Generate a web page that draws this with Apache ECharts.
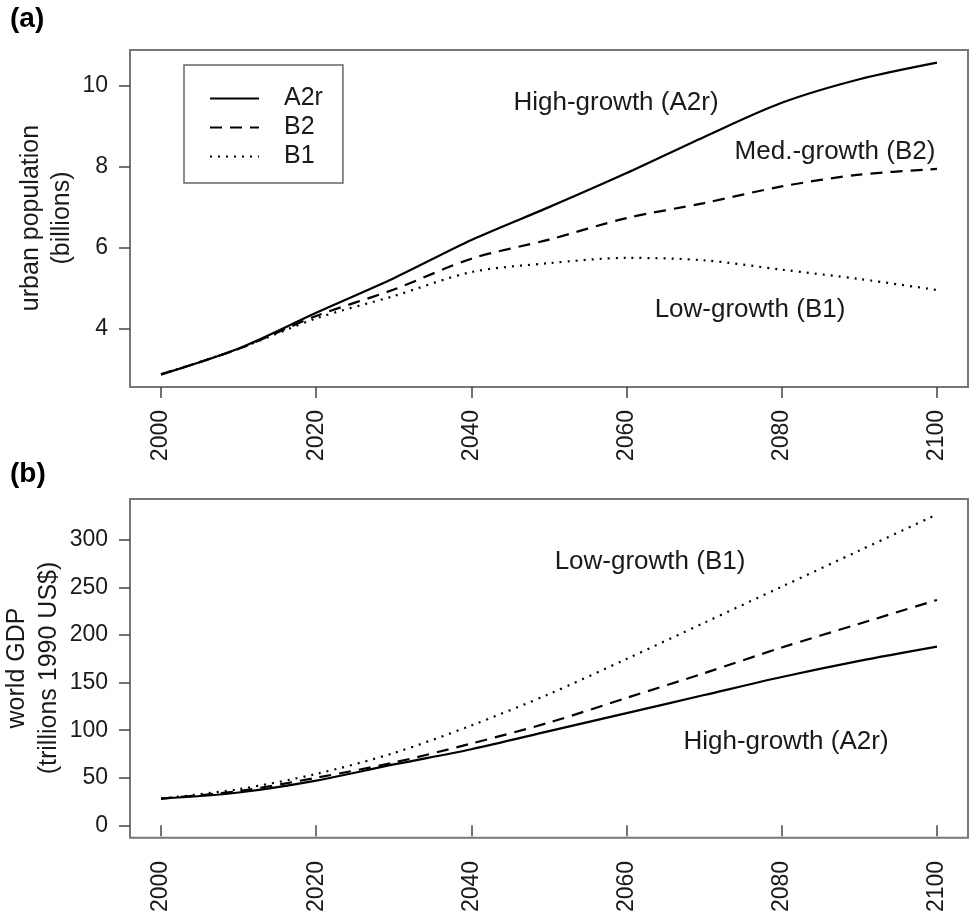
<!DOCTYPE html>
<html>
<head>
<meta charset="utf-8">
<script src="https://cdn.jsdelivr.net/npm/echarts@6/dist/echarts.min.js"></script>
<style>
  html, body { margin: 0; padding: 0; background: #fff; }
  #chart { width: 976px; height: 915px; }
</style>
</head>
<body>
<div id="chart"></div>
<script>
// Projection years and scenario series
const years = [2000, 2010, 2020, 2030, 2040, 2050, 2060, 2070, 2080, 2090, 2100];

// (a) urban population, billions
const popA2r = [2.88, 3.52, 4.40, 5.25, 6.19, 7.00, 7.84, 8.73, 9.57, 10.15, 10.56];
const popB2  = [2.88, 3.51, 4.32, 4.97, 5.73, 6.20, 6.73, 7.10, 7.51, 7.80, 7.94];
const popB1  = [2.88, 3.51, 4.26, 4.81, 5.40, 5.62, 5.75, 5.69, 5.46, 5.23, 4.96];

// (b) world GDP, trillions 1990 US$
const gdpA2r = [28, 34.5, 47, 64, 80, 99, 118, 137, 156, 173, 188];
const gdpB2  = [28, 36, 50, 66, 86, 108, 134, 160, 187, 212, 237];
const gdpB1  = [28, 38, 54, 76, 105, 138, 175, 213, 251, 289, 327];

// Tick labels
const xTicks = [2000, 2020, 2040, 2060, 2080, 2100];
const popTicks = [4, 6, 8, 10];
const gdpTicks = [0, 50, 100, 150, 200, 250, 300];

const scenarios = ['A2r', 'B2', 'B1'];
const FONT = '"Liberation Sans", Arial, sans-serif';
const INK = '#1a1a1a';

const lineStyles = {
  A2r: { color: '#000', width: 2.2, type: 'solid' },
  B2:  { color: '#000', width: 2.2, type: [12, 8] },
  B1:  { color: '#000', width: 2.2, type: [2, 6] }
};

function pairs(vals) {
  return years.map((y, i) => [y, vals[i]]);
}

function makeSeries(name, vals, idx) {
  return {
    type: 'line',
    name: name,
    xAxisIndex: idx,
    yAxisIndex: idx,
    data: pairs(vals),
    symbol: 'none',
    smooth: 0.3,
    lineStyle: lineStyles[name],
    itemStyle: { color: '#000' },
    emphasis: { disabled: true },
    z: 3
  };
}

function xAxis(idx) {
  return {
    type: 'value',
    gridIndex: idx,
    min: 1996,
    max: 2104,
    axisLine: { show: false },
    splitLine: { show: false },
    axisTick: {
      show: true,
      customValues: xTicks,
      length: 11,
      lineStyle: { color: '#444', width: 1.5 }
    },
    axisLabel: {
      customValues: xTicks,
      formatter: (v) => String(v),
      rotate: 90,
      margin: 23,
      fontSize: 23,
      fontFamily: FONT,
      color: INK
    }
  };
}

function yAxis(idx, min, max, ticks) {
  return {
    type: 'value',
    gridIndex: idx,
    min: min,
    max: max,
    axisLine: { show: false },
    splitLine: { show: false },
    axisTick: {
      show: true,
      customValues: ticks,
      length: 11,
      lineStyle: { color: '#444', width: 1.5 }
    },
    axisLabel: {
      customValues: ticks,
      formatter: (v) => String(v),
      margin: 22,
      fontSize: 23,
      fontFamily: FONT,
      color: INK
    }
  };
}

function note(text, x, y, extra) {
  return {
    type: 'text',
    x: x,
    y: y,
    rotation: extra && extra.rotation || 0,
    style: {
      text: text,
      fill: INK,
      font: ((extra && extra.size) || 26) + 'px ' + FONT,
      align: 'center',
      verticalAlign: 'middle',
      lineHeight: (extra && extra.lineHeight) || 30
    }
  };
}

const chart = echarts.init(document.getElementById('chart'), null, { renderer: 'canvas' });

chart.setOption({
  animation: false,
  backgroundColor: '#fff',
  grid: [
    { left: 130, top: 50, width: 838, height: 337, show: true, borderColor: '#777', borderWidth: 2, backgroundColor: 'transparent' },
    { left: 130, top: 499, width: 838, height: 339, show: true, borderColor: '#777', borderWidth: 2, backgroundColor: 'transparent' }
  ],
  xAxis: [xAxis(0), xAxis(1)],
  yAxis: [
    yAxis(0, 2.57, 10.87, popTicks),
    yAxis(1, -13.2, 343.2, gdpTicks)
  ],
  legend: {
    data: scenarios,
    orient: 'vertical',
    left: 184,
    top: 65,
    backgroundColor: '#fff',
    borderColor: '#666',
    borderWidth: 1.5,
    borderRadius: 0,
    padding: [20, 20, 13, 25],
    itemWidth: 49,
    itemHeight: 14,
    itemGap: 2,
    selectedMode: false,
    itemStyle: { color: 'transparent', borderWidth: 0, opacity: 0 },
    textStyle: {
      fontSize: 25,
      fontFamily: FONT,
      color: INK,
      lineHeight: 27,
      padding: [0, 0, 0, 20]
    }
  },
  series: [
    makeSeries('A2r', popA2r, 0),
    makeSeries('B2', popB2, 0),
    makeSeries('B1', popB1, 0),
    makeSeries('A2r', gdpA2r, 1),
    makeSeries('B2', gdpB2, 1),
    makeSeries('B1', gdpB1, 1)
  ],
  graphic: [
    // panel tags
    { type: 'text', x: 10, y: 5, style: { text: '(a)', fill: '#000', font: 'bold 28px ' + FONT } },
    { type: 'text', x: 10, y: 460, style: { text: '(b)', fill: '#000', font: 'bold 28px ' + FONT } },
    // y-axis titles
    note('urban population\n(billions)', 47, 218, { rotation: Math.PI / 2, size: 25, lineHeight: 31 }),
    note('world GDP\n(trillions 1990 US$)', 33, 668, { rotation: Math.PI / 2, size: 25, lineHeight: 32 }),
    // scenario notes, panel (a)
    note('High-growth (A2r)', 616, 103),
    note('Med.-growth (B2)', 835, 152),
    note('Low-growth (B1)', 750, 310),
    // scenario notes, panel (b)
    note('Low-growth (B1)', 650, 562),
    note('High-growth (A2r)', 786, 742)
  ]
});
</script>
</body>
</html>
